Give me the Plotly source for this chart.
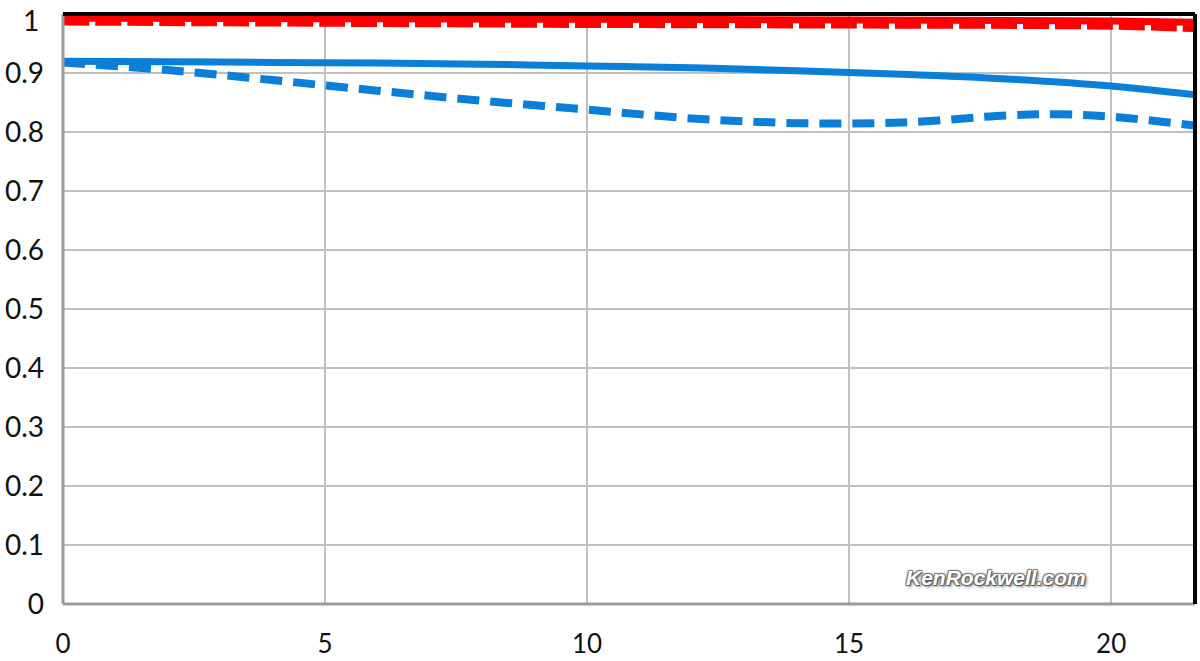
import plotly.graph_objects as go

x_blue_solid = [0, 2, 4, 6, 8, 10, 12, 14, 16, 18, 20, 21.6]
y_blue_solid = [0.920, 0.919, 0.918, 0.917, 0.915, 0.912, 0.909, 0.904, 0.898, 0.890, 0.878, 0.863]

x_blue_dash = [0, 2, 4, 6, 8, 10, 12, 14, 16, 18, 19, 20, 21.6]
y_blue_dash = [0.918, 0.905, 0.888, 0.870, 0.853, 0.838, 0.823, 0.815, 0.816, 0.828, 0.830, 0.826, 0.811]

x_red_solid = [0, 5, 10, 15, 20, 21.6]
y_red_solid = [0.993, 0.992, 0.991, 0.990, 0.988, 0.986]

x_red_dash = [0, 5, 10, 15, 20, 21.6]
y_red_dash = [0.988, 0.986, 0.984, 0.983, 0.981, 0.977]

x_ticks = [0, 5, 10, 15, 20]
y_ticks = [0, 0.1, 0.2, 0.3, 0.4, 0.5, 0.6, 0.7, 0.8, 0.9]
y_labels = ["0", "0.1", "0.2", "0.3", "0.4", "0.5", "0.6", "0.7", "0.8", "0.9"]
y_top_tick = 1
y_top_label = "1"

RED = "#ff0000"
BLUE = "#0a7fd8"
FONT = "Lato, 'Open Sans', sans-serif"

fig = go.Figure()
fig.add_trace(go.Scatter(x=x_blue_dash, y=y_blue_dash, mode="lines", line=dict(color=BLUE, width=8, dash="22px,11px", shape="spline")))
fig.add_trace(go.Scatter(x=x_blue_solid, y=y_blue_solid, mode="lines", line=dict(color=BLUE, width=7, shape="spline")))
fig.add_trace(go.Scatter(x=x_red_dash, y=y_red_dash, mode="lines", line=dict(color=RED, width=9, dash="26px,6px", shape="spline")))
fig.add_trace(go.Scatter(x=x_red_solid, y=y_red_solid, mode="lines", line=dict(color=RED, width=7, shape="spline")))

fig.update_layout(
    width=1200, height=661,
    margin=dict(l=63, r=5, t=14, b=57, autoexpand=False),
    paper_bgcolor="white", plot_bgcolor="white",
    showlegend=False,
    font=dict(family=FONT, size=28, color="#111111"),
    xaxis=dict(range=[0, 21.6], tickvals=x_ticks, ticktext=[str(v) for v in x_ticks],
               tickfont=dict(size=26),
               showgrid=True, gridcolor="#c0c0c0", gridwidth=2, zeroline=False,
               showline=False, ticks="", ticklabelstandoff=22, automargin=False,
               ticklabeloverflow="allow"),
    yaxis=dict(range=[0, 1], tickvals=y_ticks, ticktext=y_labels,
               showgrid=True, gridcolor="#c0c0c0", gridwidth=2, zeroline=False,
               showline=False, ticks="", ticklabelstandoff=18, automargin=False,
               ticklabeloverflow="allow"),
    shapes=[
        dict(type="line", xref="paper", yref="paper", x0=0, x1=1, y0=0, y1=0, line=dict(color="#9a9a9a", width=3)),
        dict(type="line", xref="paper", yref="paper", x0=0, x1=0, y0=0, y1=1, line=dict(color="#9a9a9a", width=3)),
        dict(type="line", xref="paper", yref="paper", x0=0, x1=1, y0=1, y1=1, line=dict(color="black", width=4)),
        dict(type="line", xref="paper", yref="paper", x0=1, x1=1, y0=0, y1=1, line=dict(color="black", width=4)),
    ],
    annotations=[
        dict(x=0, y=y_top_tick, xref="paper", yref="y", text=y_top_label, showarrow=False,
             xanchor="right", yanchor="middle", xshift=-22, yshift=-6,
             font=dict(family=FONT, size=28, color="#111111")),
        dict(x=19.56, y=0.045, xref="x", yref="y", text="<b><i>KenRockwell.com</i></b>", showarrow=False,
             xanchor="right", yanchor="middle",
             font=dict(family="Liberation Sans, Arial, sans-serif", size=21, color="white",
                       shadow="1px 1px 1px #555, -1px -1px 1px #777, 1px -1px 1px #777, -1px 1px 1px #777, 2px 2px 3px #888")),
    ],
)

fig.write_html("out.html", config={"displayModeBar": False},
               post_script="document.body.style.margin='0';document.body.style.overflow='hidden';")
